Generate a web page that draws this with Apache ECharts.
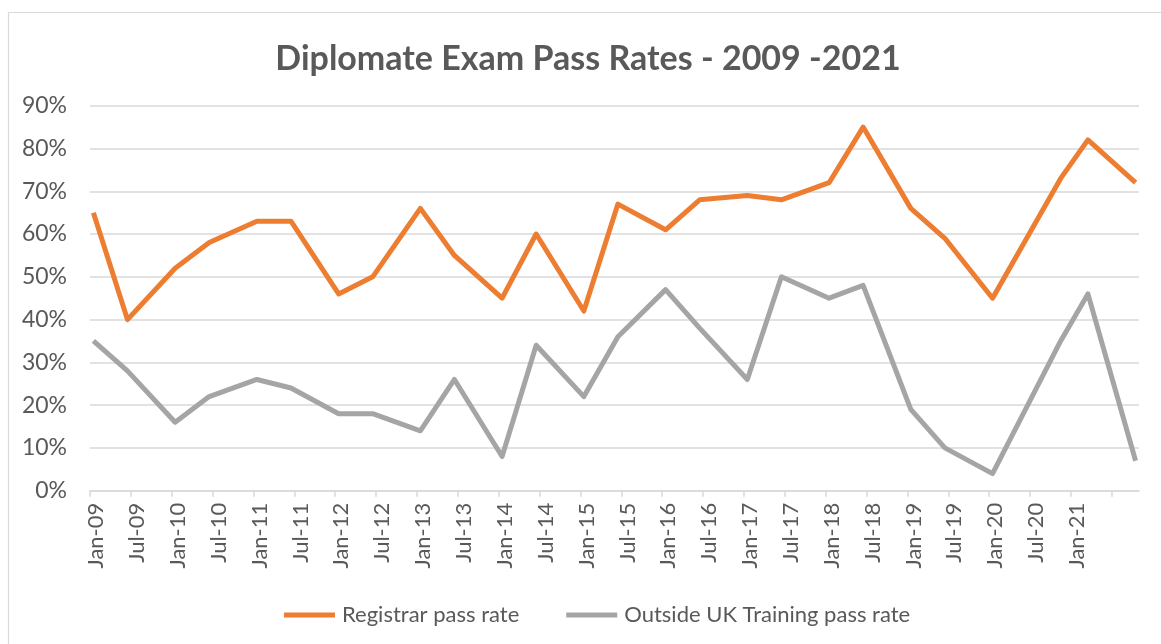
<!DOCTYPE html>
<html><head><meta charset="utf-8">
<script src="https://cdn.jsdelivr.net/npm/echarts@6/dist/echarts.min.js"></script>
<style>html,body{margin:0;padding:0;background:#fff}#c{width:1161px;height:644px}</style>
</head><body><div id="c"></div>
<script>
// ---- data ----
const examDates = ['2009-01','2009-06','2010-01','2010-06','2011-01','2011-06','2012-01','2012-06',
  '2013-01','2013-06','2014-01','2014-06','2015-01','2015-06','2016-01','2016-06','2017-01','2017-06',
  '2018-01','2018-06','2019-01','2019-06','2020-01','2020-11','2021-03','2021-10'];
const registrarRate = [65,40,52,58,63,63,46,50,66,55,45,60,42,67,61,68,69,68,72,85,66,59,45,73,82,72];
const outsideUkRate = [35,28,16,22,26,24,18,18,14,26,8,34,22,36,47,38,26,50,45,48,19,10,4,35,46,7];
const seriesNames = ['Registrar pass rate','Outside UK Training pass rate'];
const xTickLabels = ['Jan-09','Jul-09','Jan-10','Jul-10','Jan-11','Jul-11','Jan-12','Jul-12','Jan-13','Jul-13',
  'Jan-14','Jul-14','Jan-15','Jul-15','Jan-16','Jul-16','Jan-17','Jul-17','Jan-18','Jul-18','Jan-19','Jul-19',
  'Jan-20','Jul-20','Jan-21'];
const yTicks = [0,10,20,30,40,50,60,70,80,90];
const titleText = 'Diplomate Exam Pass Rates - 2009 -2021';

// ---- helpers ----
const START_YEAR = 2009;
const MONTHS = {Jan:0, Jul:6};
function monthIndex(s){ const p = s.split('-').map(Number); return (p[0]-START_YEAR)*12 + (p[1]-1); }
function labelMonth(l){ const p = l.split('-'); return (2000+Number(p[1])-START_YEAR)*12 + MONTHS[p[0]]; }
const axisMax = monthIndex(examDates[examDates.length-1]) + 1;
const tickMonths = []; for (let m = 0; m < axisMax; m += 6) tickMonths.push(m);
const LABEL_SHIFT = 0.9;
const labelByPos = {};
xTickLabels.forEach(l => { labelByPos[(labelMonth(l)+LABEL_SHIFT).toFixed(2)] = l; });
const toPoints = vals => examDates.map((d,i) => [monthIndex(d)+0.5, vals[i]]);

const FONT = 'Lato';
const TXT = '#595959';
const chart = echarts.init(document.getElementById('c'), null, {renderer:'canvas'});
chart.setOption({
  animation:false,
  backgroundColor:'#fff',
  color:['#ED7D31','#A5A5A5'],
  title:{text:titleText, left:583, top:37, textAlign:'center',
    textStyle:{fontFamily:FONT, fontSize:34, fontWeight:'bold', color:TXT}},
  graphic:[{type:'rect', shape:{x:8.5,y:12.5,width:1180,height:660}, style:{fill:'none', stroke:'#d9d9d9', lineWidth:1.2}, silent:true}],
  legend:{left:279, top:599, itemWidth:51, itemHeight:5, itemGap:47, icon:'rect',
    textStyle:{fontFamily:FONT, fontSize:22, color:TXT, padding:[0,0,0,2]}, data:seriesNames},
  grid:{left:90, right:22, top:105.7, bottom:153.3, containLabel:false},
  xAxis:{type:'value', min:0, max:axisMax,
    axisLine:{show:true, lineStyle:{color:'#d9d9d9', width:1.5}},
    axisTick:{show:true, length:6, lineStyle:{color:'#d9d9d9', width:1.5}, customValues:tickMonths},
    axisLabel:{rotate:90, margin:12, fontFamily:FONT, fontSize:22, color:TXT,
      customValues: xTickLabels.map(l => labelMonth(l)+LABEL_SHIFT),
      formatter: v => labelByPos[Number(v).toFixed(2)] || ''},
    splitLine:{show:false}},
  yAxis:{type:'value', min:yTicks[0], max:yTicks[yTicks.length-1], interval:yTicks[1]-yTicks[0],
    axisLine:{show:false}, axisTick:{show:false},
    axisLabel:{formatter:'{value}%', margin:23, fontFamily:FONT, fontSize:23, color:TXT},
    splitLine:{lineStyle:{color:'#d9d9d9', width:1.5}}},
  series:[
    {name:seriesNames[0], type:'line', data:toPoints(registrarRate), symbol:'none',
      lineStyle:{width:5, color:'#ED7D31', join:'round'}, itemStyle:{color:'#ED7D31'}},
    {name:seriesNames[1], type:'line', data:toPoints(outsideUkRate), symbol:'none',
      lineStyle:{width:5, color:'#A5A5A5', join:'round'}, itemStyle:{color:'#A5A5A5'}}
  ]
});
</script></body></html>
